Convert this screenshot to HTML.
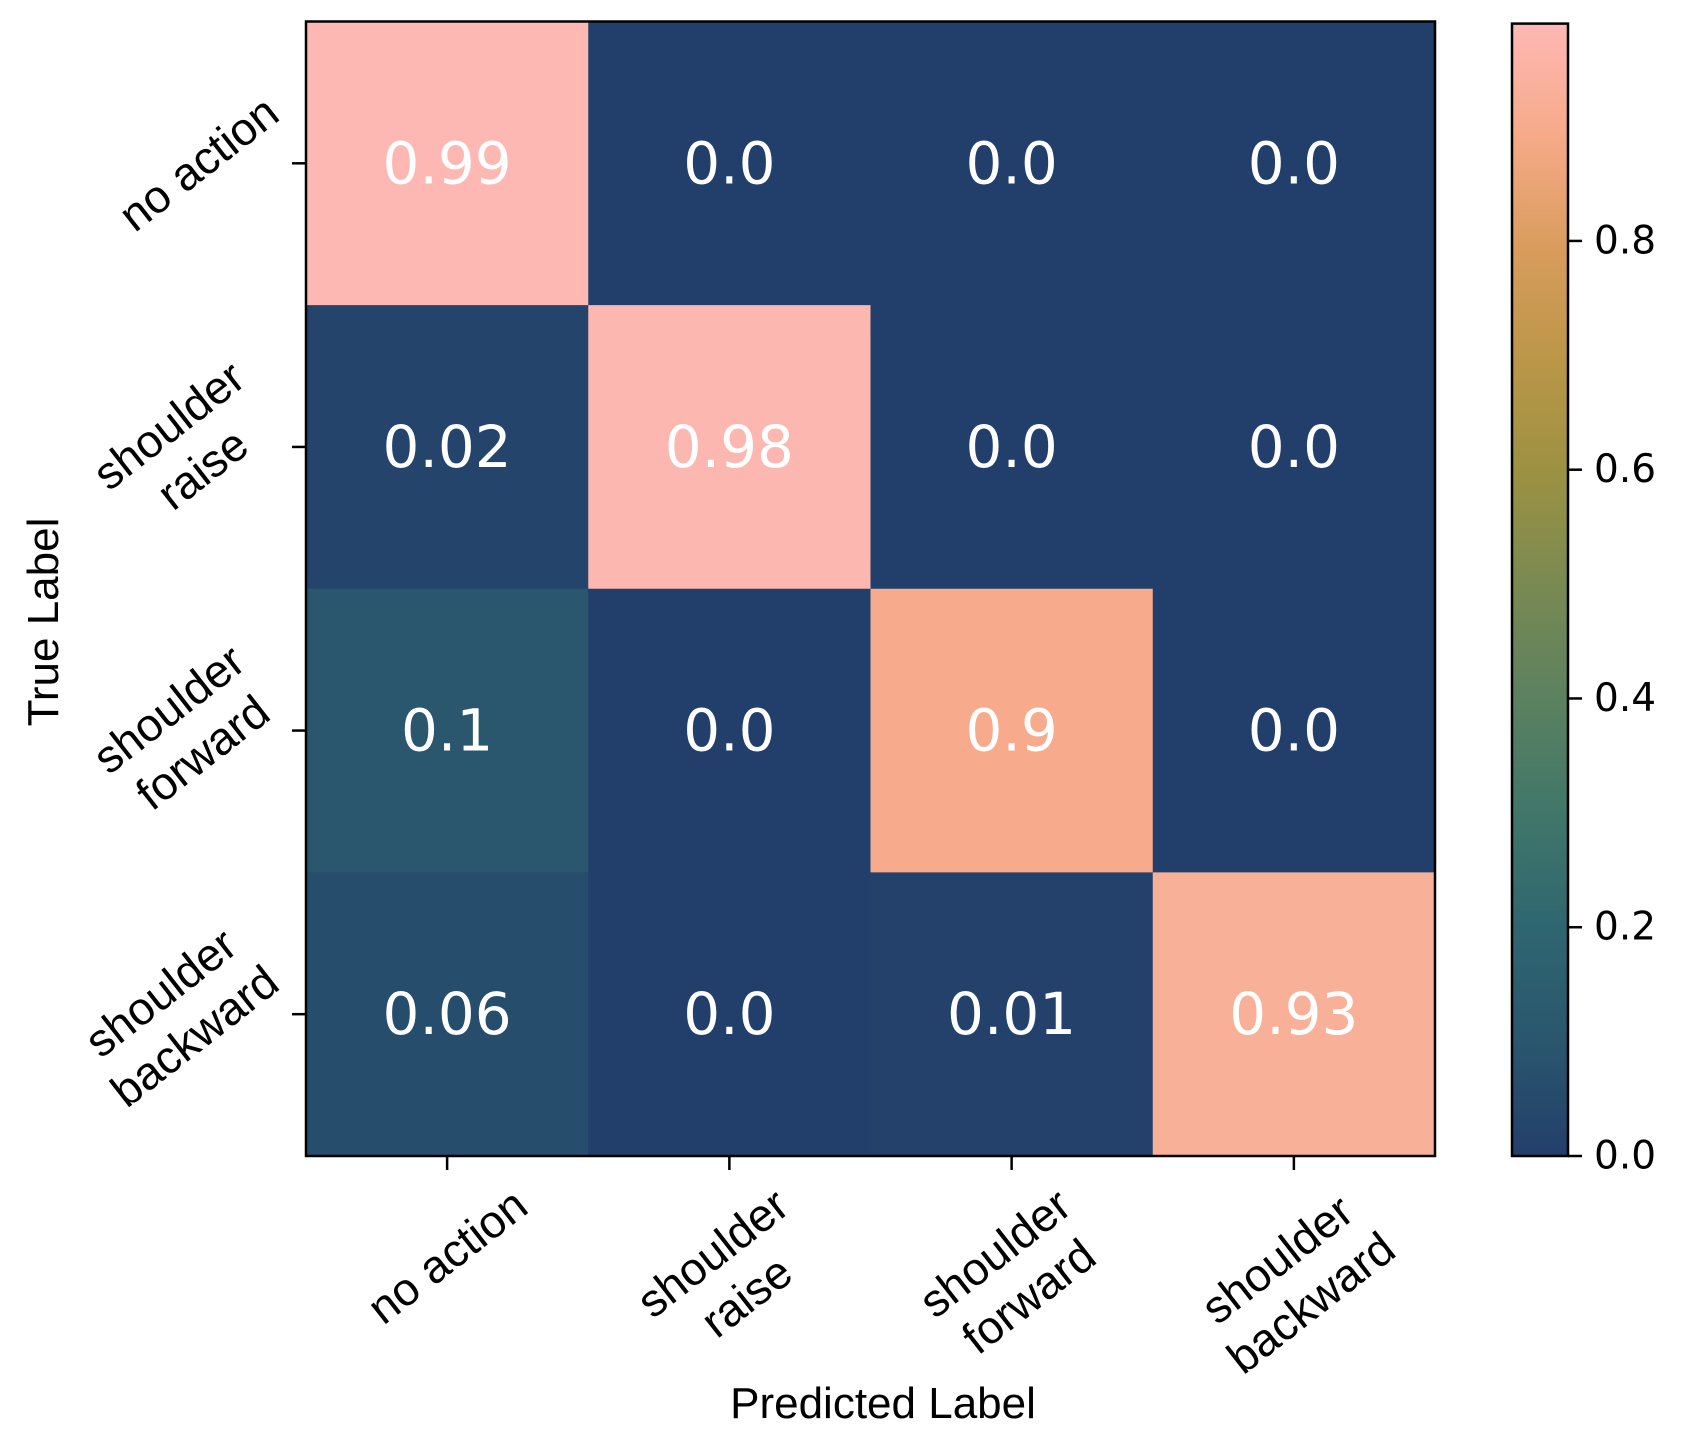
<!DOCTYPE html>
<html><head><meta charset="utf-8">
<style>
html,body{margin:0;padding:0;background:#fff;}
svg{display:block;}
.num{font-family:"DejaVu Sans","Liberation Sans",sans-serif;}
.lab{font-family:"Liberation Sans",Arial,sans-serif;}
</style></head>
<body>
<svg id="chart" width="1682" height="1450" viewBox="0 0 1682 1450" xmlns="http://www.w3.org/2000/svg">
<defs>
<linearGradient id="cmapGrad" x1="0" y1="1" x2="0" y2="0">
</linearGradient>
</defs>
<g id="cells"></g>
<g id="annots"></g>
<rect x="306" y="21.5" width="1129" height="1134.5" fill="none" stroke="#000" stroke-width="2.5"/>
<g id="xticks"></g>
<g id="yticks"></g>
<text class="lab" x="883" y="1418" font-size="44" text-anchor="middle">Predicted Label</text>
<text class="lab" transform="translate(58,622) rotate(-90)" font-size="44" text-anchor="middle">True Label</text>
<g id="colorbar"></g>
</svg>
<script>
const classes = [["no action"],["shoulder","raise"],["shoulder","forward"],["shoulder","backward"]];
const row0 = [0.99, 0.0, 0.0, 0.0];
const row1 = [0.02, 0.98, 0.0, 0.0];
const row2 = [0.1, 0.0, 0.9, 0.0];
const row3 = [0.06, 0.0, 0.01, 0.93];
const matrix = [row0,row1,row2,row3];
const labels0 = ["0.99","0.0","0.0","0.0"];
const labels1 = ["0.02","0.98","0.0","0.0"];
const labels2 = ["0.1","0.0","0.9","0.0"];
const labels3 = ["0.06","0.0","0.01","0.93"];
const cellLabels = [labels0,labels1,labels2,labels3];
const cbTicks = [0.0,0.2,0.4,0.6,0.8];
const cbTickLabels = ["0.0","0.2","0.4","0.6","0.8"];
const vmin = 0, vmax = 0.99;

const NS = "http://www.w3.org/2000/svg";
const X0=306, X1=1435, Y0=21.5, Y1=1156;
const n = classes.length;
const cw=(X1-X0)/n, ch=(Y1-Y0)/n;
const xCol = i => X0 + i*cw;
const yRow = j => Y0 + j*ch;

const stops = [[0,[34,63,107]],[0.1,[42,86,110]],[0.2,[46,102,112]],[0.3,[64,118,106]],[0.4,[90,129,96]],[0.5,[120,137,82]],[0.6,[155,145,66]],[0.7,[186,150,72]],[0.8,[216,156,92]],[0.9,[246,170,136]],[1.0,[253,184,180]]];
function cmap(v){
  let t=(v-vmin)/(vmax-vmin); t=Math.max(0,Math.min(1,t));
  for(let k=1;k<stops.length;k++){
    if(t<=stops[k][0]){
      const a=stops[k-1],b=stops[k],f=(t-a[0])/(b[0]-a[0]);
      const c=a[1].map((x,i)=>Math.round(x+(b[1][i]-x)*f));
      return `rgb(${c[0]},${c[1]},${c[2]})`;
    }
  }
  return 'rgb(253,184,180)';
}
function mk(tag,attrs,parent){const e=document.createElementNS(NS,tag);for(const k in attrs)e.setAttribute(k,attrs[k]);parent.appendChild(e);return e;}

const grad=document.getElementById('cmapGrad');
stops.forEach(s=>{mk('stop',{offset:s[0],'stop-color':`rgb(${s[1].join(',')})`},grad);});

const cells=document.getElementById('cells'), annots=document.getElementById('annots');
for(let j=0;j<n;j++)for(let i=0;i<n;i++){
  const r=mk('rect',{x:xCol(i),y:yRow(j),width:cw+0.5,height:ch+0.5,fill:cmap(matrix[j][i])},cells);
  
  
  const t=mk('text',{x:xCol(i)+cw/2,y:yRow(j)+ch/2,'font-size':58,'text-anchor':'middle','dominant-baseline':'central',fill:'#fff',class:'num'},annots);
  t.textContent=cellLabels[j][i];
  
  
}

const ROT=-38, FS=46;
function multiText(lines,parent,fs){
  const g=mk('g',{},parent);
  const t=mk('text',{'font-size':fs,'text-anchor':'middle',class:'lab'},g);
  lines.forEach((l,k)=>{const s=mk('tspan',{x:0,dy:k===0?0:fs*1.2},t);s.textContent=l;});
  return g;
}
const xt=document.getElementById('xticks'), yt=document.getElementById('yticks');
for(let i=0;i<n;i++){
  const cx=xCol(i)+cw/2;
  const tk=mk('line',{x1:cx,y1:Y1,x2:cx,y2:Y1+14,stroke:'#000','stroke-width':2.5},xt);
  
  
  const g=multiText(classes[i],xt,FS);
  
  
  g.setAttribute('transform',`rotate(${ROT})`);
  const b=g.getBoundingClientRect();
  const dx=cx-(b.left+b.width/2), dy=(Y1+22)-b.top;
  g.setAttribute('transform',`translate(${dx},${dy}) rotate(${ROT})`);

  const cy=yRow(i)+ch/2;
  const tk2=mk('line',{x1:X0-14,y1:cy,x2:X0,y2:cy,stroke:'#000','stroke-width':2.5},yt);
  
  
  const g2=multiText(classes[i],yt,FS);
  
  
  g2.setAttribute('transform',`rotate(${ROT})`);
  const b2=g2.getBoundingClientRect();
  const dx2=(X0-18)-b2.right, dy2=cy-(b2.top+b2.height/2);
  g2.setAttribute('transform',`translate(${dx2},${dy2}) rotate(${ROT})`);
}

const cb=document.getElementById('colorbar');
const CX0=1512, CX1=1568, CY0=23.6, CY1=1156;
const cbY=v=>CY1-(v-vmin)/(vmax-vmin)*(CY1-CY0);
const cr=mk('rect',{x:CX0,y:CY0,width:CX1-CX0,height:CY1-CY0,fill:'url(#cmapGrad)',stroke:'#000','stroke-width':2.5},cb);


cbTicks.forEach((v,k)=>{
  const y=cbY(v);
  const l=mk('line',{x1:CX1,y1:y,x2:CX1+14,y2:y,stroke:'#000','stroke-width':2.5},cb);
  
  
  const t=mk('text',{x:CX1+26,y:y,'font-size':39,'dominant-baseline':'central',class:'num'},cb);
  t.textContent=cbTickLabels[k];
  
  
});
</script>
</body></html>
